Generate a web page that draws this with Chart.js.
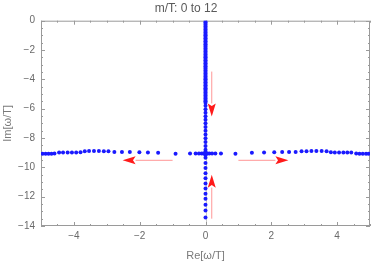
<!DOCTYPE html>
<html>
<head>
<meta charset="utf-8">
<script src="https://cdn.jsdelivr.net/npm/chart.js@4"></script>
<style>
  html, body { margin: 0; padding: 0; background: #fff; }
  #wrap { width: 374px; height: 264px; }
</style>
</head>
<body>
<div id="wrap"><canvas id="myChart"></canvas></div>
<script>
// upper branch on the imaginary axis (Re = 0)
const upperIm = [0, -0.1, -0.2, -0.3, -0.4, -0.5, -0.6, -0.7, -0.8, -0.9, -1.0, -1.1, -1.2, -1.3, -1.4,
  -1.5, -1.6, -1.7, -1.8, -1.9, -2.0, -2.1, -2.2, -2.3, -2.4, -2.5, -2.6, -2.7, -2.8, -2.9, -3.0,
  -3.1, -3.2, -3.3, -3.4, -3.5, -3.6, -3.7, -3.8, -3.9, -4.0, -4.1, -4.2, -4.3, -4.4, -4.5, -4.6,
  -4.7, -4.8, -4.9, -5.0, -5.1, -5.2, -5.3, -5.4, -5.5, -5.6, -5.8, -6.04, -6.28, -6.52, -6.76,
  -7.0, -7.25, -7.5, -7.76, -8.02, -8.28, -8.55, -8.8, -8.95];
// lower branch on the imaginary axis (Re = 0)
const lowerIm = [-9.15, -9.35, -9.7, -10.05, -10.4, -10.75, -11.1, -11.45, -11.8, -12.15, -12.55, -12.95, -13.42];
// points close to the collision point
const centerRe = [-0.47, -0.3, -0.2, -0.12, -0.06, -0.02, 0.02, 0.06, 0.12, 0.2, 0.3, 0.47];
const centerIm = -9.05;
// left horizontal branch
const leftRe = [-4.95, -4.86, -4.77, -4.68, -4.59, -4.45, -4.33, -4.19, -4.06, -3.93, -3.8, -3.67,
  -3.54, -3.39, -3.24, -3.09, -2.95, -2.77, -2.54, -2.3, -2.01, -1.75, -1.44, -0.91];
const leftIm = [-9.07, -9.07, -9.07, -9.07, -9.06, -8.99, -8.98, -8.98, -8.98, -8.98, -8.97, -8.9,
  -8.89, -8.89, -8.89, -8.9, -8.91, -8.95, -8.96, -8.96, -8.97, -8.98, -9.0, -9.07];
// right horizontal branch
const rightRe = [0.91, 1.41, 1.78, 2.09, 2.33, 2.54, 2.74, 2.92, 3.07, 3.22, 3.37, 3.53,
  3.68, 3.81, 3.93, 4.06, 4.19, 4.31, 4.43, 4.58, 4.68, 4.78, 4.88, 4.96];
const rightIm = [-9.07, -9.0, -8.98, -8.97, -8.96, -8.96, -8.95, -8.91, -8.9, -8.89, -8.89, -8.89,
  -8.9, -8.97, -8.98, -8.98, -8.98, -8.98, -8.99, -9.06, -9.07, -9.07, -9.07, -9.07];

// arrows showing the direction of increasing m/T (data units)
const arrows = [
  { x0: 0.19, y0: -3.47, x1: 0.19, y1: -6.53 },
  { x0: 0.19, y0: -13.5, x1: 0.19, y1: -10.5 },
  { x0: -1.0, y0: -9.52, x1: -2.52, y1: -9.52 },
  { x0: 1.0, y0: -9.52, x1: 2.52, y1: -9.52 }
];

const points = [];
upperIm.forEach(v => points.push({ x: 0, y: v }));
lowerIm.forEach(v => points.push({ x: 0, y: v }));
centerRe.forEach(v => points.push({ x: v, y: centerIm }));
leftRe.forEach((v, i) => points.push({ x: v, y: leftIm[i] }));
rightRe.forEach((v, i) => points.push({ x: v, y: rightIm[i] }));

const fmt = v => (v < 0 ? '\u2212' + Math.abs(v) : String(v));

// frame, inward ticks, zero line and arrows
const framePlugin = {
  id: 'frame',
  beforeDatasetsDraw(chart) {
    const { ctx, chartArea: a, scales: { x, y } } = chart;
    ctx.save();
    ctx.strokeStyle = '#c8c8c8';
    ctx.lineWidth = 1;
    const px = Math.round(x.getPixelForValue(0)) + 0.5;
    ctx.beginPath();
    ctx.moveTo(px, a.top);
    ctx.lineTo(px, a.bottom);
    ctx.stroke();

    ctx.strokeStyle = '#9a9a9a';
    ctx.strokeRect(a.left + 0.5, a.top + 0.5, a.right - a.left - 1, a.bottom - a.top - 1);
    ctx.beginPath();
    x.ticks.forEach(t => {
      const p = Math.round(x.getPixelForValue(t.value)) + 0.5;
      const len = t.value % 2 === 0 ? 4 : 2;
      ctx.moveTo(p, a.bottom); ctx.lineTo(p, a.bottom - len);
      ctx.moveTo(p, a.top); ctx.lineTo(p, a.top + len);
    });
    y.ticks.forEach(t => {
      const p = Math.round(y.getPixelForValue(t.value)) + 0.5;
      const len = t.value % 2 === 0 ? 4 : 2;
      ctx.moveTo(a.left, p); ctx.lineTo(a.left + len, p);
      ctx.moveTo(a.right, p); ctx.lineTo(a.right - len, p);
    });
    ctx.stroke();
    ctx.restore();
  },
  afterDatasetsDraw(chart) {
    const { ctx, scales: { x, y } } = chart;
    ctx.save();
    arrows.forEach(ar => {
      const x0 = x.getPixelForValue(ar.x0), y0 = y.getPixelForValue(ar.y0);
      const x1 = x.getPixelForValue(ar.x1), y1 = y.getPixelForValue(ar.y1);
      const ang = Math.atan2(y1 - y0, x1 - x0);
      const hl = 13, hw = 4;
      ctx.strokeStyle = 'rgba(255,80,80,0.6)';
      ctx.lineWidth = 1;
      ctx.beginPath();
      ctx.moveTo(x0, y0);
      ctx.lineTo(x1 - Math.cos(ang) * hl, y1 - Math.sin(ang) * hl);
      ctx.stroke();
      ctx.fillStyle = '#ff1a1a';
      ctx.beginPath();
      ctx.moveTo(x1, y1);
      ctx.lineTo(x1 - Math.cos(ang) * hl - Math.sin(ang) * hw, y1 - Math.sin(ang) * hl + Math.cos(ang) * hw);
      ctx.lineTo(x1 - Math.cos(ang) * hl * 0.8, y1 - Math.sin(ang) * hl * 0.8);
      ctx.lineTo(x1 - Math.cos(ang) * hl + Math.sin(ang) * hw, y1 - Math.sin(ang) * hl - Math.cos(ang) * hw);
      ctx.closePath();
      ctx.fill();
    });
    ctx.restore();
  }
};

const ctx = document.getElementById('myChart').getContext('2d');
new Chart(ctx, {
  type: 'scatter',
  data: {
    datasets: [{
      data: points,
      backgroundColor: '#1a1aff',
      borderWidth: 0,
      pointRadius: 2,
      pointHoverRadius: 2
    }]
  },
  options: {
    responsive: true,
    maintainAspectRatio: false,
    animation: false,
    events: [],
    layout: { padding: { left: 0, right: 2, top: 0, bottom: 0 } },
    plugins: {
      legend: { display: false },
      tooltip: { enabled: false },
      title: {
        display: true,
        text: 'm/T: 0 to 12',
        color: '#5a5a5a',
        font: { family: 'Liberation Sans', size: 12, weight: 'normal' },
        padding: { top: 1, bottom: 5.3 }
      }
    },
    scales: {
      x: {
        type: 'linear',
        min: -5,
        max: 5,
        afterFit: s => { s.height = 38; },
        grid: { display: false, drawTicks: false },
        border: { display: false },
        ticks: {
          stepSize: 0.5,
          autoSkip: false,
          maxRotation: 0,
          padding: 4,
          color: '#6a6a6a',
          font: { family: 'Liberation Sans', size: 10 },
          callback: v => (v % 2 === 0 ? fmt(v) : '')
        },
        title: {
          display: true,
          text: 'Re[\u03c9/T]',
          color: '#7a7a7a',
          font: { family: 'Liberation Sans', size: 11 },
          padding: { top: 0, bottom: 1.4 }
        }
      },
      y: {
        type: 'linear',
        min: -14,
        max: 0,
        afterFit: s => { s.width = 41; },
        grid: { display: false, drawTicks: false },
        border: { display: false },
        ticks: {
          stepSize: 0.5,
          autoSkip: false,
          padding: 6,
          color: '#6a6a6a',
          font: { family: 'Liberation Sans', size: 10 },
          callback: v => (v % 2 === 0 ? fmt(v) : '')
        },
        title: {
          display: true,
          text: 'Im[\u03c9/T]',
          color: '#7a7a7a',
          font: { family: 'Liberation Sans', size: 11 },
          padding: { top: 1, bottom: 0 }
        }
      }
    }
  },
  plugins: [framePlugin]
});
</script>
</body>
</html>
